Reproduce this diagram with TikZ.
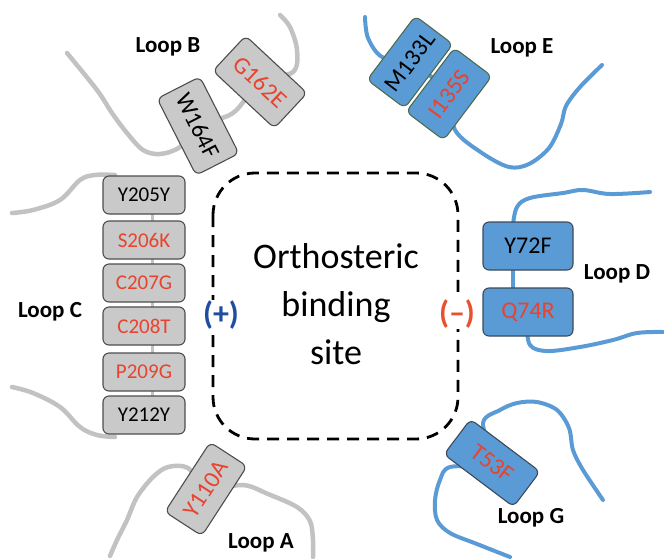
\documentclass[tikz,border=0pt]{standalone}
\usepackage{fontspec}
\setmainfont{Carlito}
\definecolor{greyfill}{HTML}{C9C9C9}
\definecolor{greyline}{HTML}{C2C2C2}
\definecolor{boxline}{HTML}{4D4D4D}
\definecolor{bluefill}{HTML}{5B9BD5}
\definecolor{blueline}{HTML}{5B9BD5}
\definecolor{eline}{HTML}{4E6B4E}
\definecolor{dline}{HTML}{3A4A5A}
\definecolor{mutred}{HTML}{E8432E}
\definecolor{plusblue}{HTML}{1F4EA0}
\definecolor{minusred}{HTML}{E8502E}
\begin{document}
\begin{tikzpicture}[x=1pt,y=-1pt,
  mut/.style={draw=boxline, line width=1.1pt, rounded corners=6pt, inner sep=0pt,
    font=\fontsize{24}{28}\selectfont},
  greybox/.style={mut, fill=greyfill},
  bluebox/.style={mut, fill=bluefill, draw=dline},
  ebox/.style={mut, fill=bluefill, draw=eline},
  cbox/.style={greybox, minimum width=82pt, minimum height=38pt,
    font=\fontsize{21}{25}\selectfont},
  hit/.style={text=mutred},
  greychain/.style={draw=greyline, line width=4.5pt, line cap=round, line join=round},
  bluechain/.style={draw=blueline, line width=4pt, line cap=round, line join=round},
  looplabel/.style={font=\bfseries\fontsize{23}{28}\selectfont},
  sign/.style={font=\bfseries\fontsize{32}{36}\selectfont, fill=white, inner sep=0.5pt},
]
\useasboundingbox (0,0) rectangle (664,558);

% ---- positions of the residues ----
\coordinate (pW164F) at (198,126);
\coordinate (pG162E) at (260,82);
\coordinate (pM133L) at (410,62);
\coordinate (pI135S) at (449,94);
\coordinate (pY72F)  at (528,246);
\coordinate (pQ74R)  at (528,312);
\coordinate (pT53F)  at (492,463);
\coordinate (pY110A) at (206,489);
\coordinate (pY205Y) at (144,195);
\coordinate (pY212Y) at (144,415);

% ---- backbone of the principal (+) side ----
% loop B
\draw[greychain] plot[smooth, tension=0.55] coordinates {
  (67,53) (97,90) (112,113) (127,133) (143,150) (160,154) (180,147)
  (pW164F) (233,113) (pG162E) (293,72) (297,50) (290,27) (280,15)};
% loop C
\draw[greychain] plot[smooth, tension=0.6] coordinates {
  (12,213) (33,210) (60,200) (80,180) (95,175) (115,175)};
\draw[greychain] plot[smooth, tension=0.6] coordinates {
  (12,387) (33,393) (60,407) (80,427) (97,435) (115,437)};
\draw[greychain, line width=3pt] (152,195) -- (152,415);
% loop A
\draw[greychain] plot[smooth, tension=0.55] coordinates {
  (110,556) (117,540) (127,520) (137,497) (153,477) (168,467) (188,468)
  (pY110A) (243,485) (268,494) (297,507) (310,521) (313,540) (313,557)};

% ---- backbone of the complementary (-) side ----
% loop E
\draw[bluechain] plot[smooth, tension=0.55] coordinates {
  (365,17) (368,38) (382,57) (pM133L) (pI135S) (455,130) (482,153) (509,167)
  (529,164) (549,148) (561,124) (566,106) (580,87) (602,65)};
% loop D
\draw[bluechain] plot[smooth, tension=0.6] coordinates {
  (650,192) (610,194) (583,190) (563,193) (530,198) (517,207) (513,225)};
\draw[bluechain] (513,225) -- (513,300);
\draw[bluechain] plot[smooth, tension=0.6] coordinates {
  (527,325) (530,345) (547,351) (580,347) (613,340) (637,333) (663,332)};
% loop G
\draw[bluechain] plot[smooth, tension=0.55] coordinates {
  (510,557) (477,544) (450,533) (437,520) (435,500) (440,480) (450,467)
  (pT53F) (483,423) (500,410) (517,403) (537,402) (557,410) (569,428)
  (573,450) (583,470) (603,500)};

% ---- binding pocket ----
\draw[line width=2.8pt, dash pattern=on 12pt off 8pt, rounded corners=42pt]
  (213,173) rectangle (458,439);
\node[font=\fontsize{36}{48}\selectfont, align=center] (site) at (336,304)
  {Orthosteric\\binding\\site};
\node[sign, text=plusblue] (plus) at (221,315) {(+)};
\node[sign, text=minusred] (minus) at (457,314) {(–)};

% ---- residues ----
\node[greybox, minimum width=86pt, minimum height=48pt, rotate=-63] (W164F) at (pW164F) {W164F};
\node[greybox, hit, minimum width=84pt, minimum height=48pt, rotate=-43] (G162E) at (pG162E) {G162E};
\node[ebox, minimum width=80pt, minimum height=47pt, rotate=53] (M133L) at (pM133L) {M133L};
\node[ebox, hit, minimum width=80pt, minimum height=47pt, rotate=53] (I135S) at (pI135S) {I135S};
\node[bluebox, minimum width=90pt, minimum height=48pt] (Y72F) at (pY72F) {Y72F};
\node[bluebox, hit, minimum width=90pt, minimum height=48pt] (Q74R) at (pQ74R) {Q74R};
\node[bluebox, hit, minimum width=87pt, minimum height=44pt, rotate=-37] (T53F) at (pT53F) {T53F};
\node[greybox, hit, minimum width=83pt, minimum height=44pt, rotate=57] (Y110A) at (pY110A) {Y110A};

\node[cbox] (Y205Y) at (pY205Y) {Y205Y};
\node[cbox, hit] (S206K) at (144,240) {S206K};
\node[cbox, hit] (C207G) at (144,283) {C207G};
\node[cbox, hit] (C208T) at (144,326) {C208T};
\node[cbox, hit] (P209G) at (144,372) {P209G};
\node[cbox] (Y212Y) at (pY212Y) {Y212Y};

% ---- loop names ----
\node[looplabel] (loopB) at (168,47) {Loop B};
\node[looplabel] (loopE) at (522,48) {Loop E};
\node[looplabel] (loopC) at (50,312) {Loop C};
\node[looplabel] (loopD) at (617,274) {Loop D};
\node[looplabel] (loopG) at (531,518) {Loop G};
\node[looplabel] (loopA) at (261,543) {Loop A};
\end{tikzpicture}
\end{document}
